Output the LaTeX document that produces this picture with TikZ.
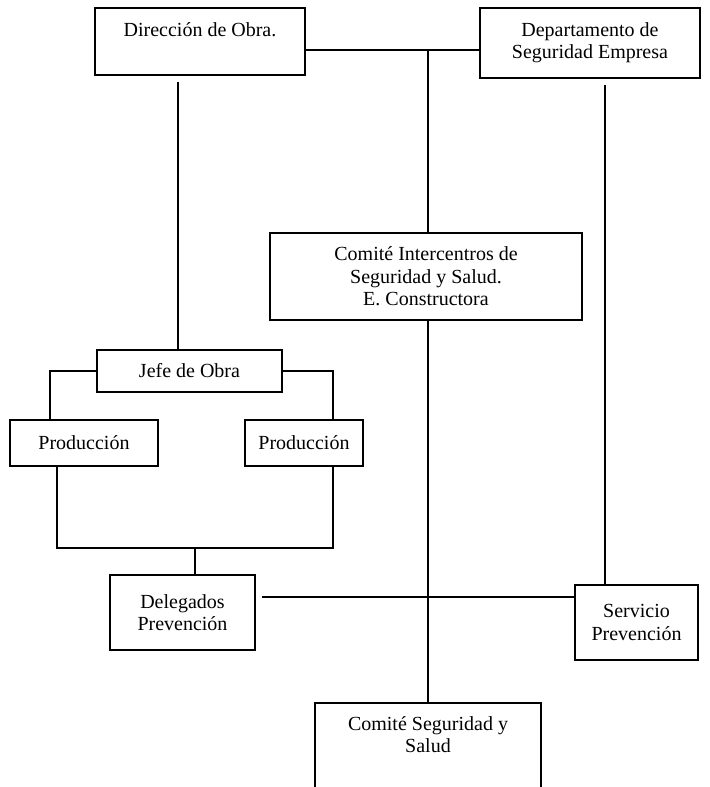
\documentclass[tikz,border=0pt]{standalone}
\usepackage{fontspec}
\setmainfont{Liberation Serif}
\usepackage{tikz}
\usetikzlibrary{calc}

\begin{document}
\begin{tikzpicture}[x=0.5pt, y=-0.5pt, line width=0.75pt,
    caja/.style={draw, align=center, font=\fontsize{10}{11.2}\selectfont, inner sep=2pt}]
  \useasboundingbox (0, 0) rectangle (709, 787);
  \clip (0, 0) rectangle (709, 787);

  \node[caja, minimum width=105pt, minimum height=33.5pt] (direccion) at (200, 41.5)
       {Dirección de Obra.\\[1pt]\mbox{}};
  \node[caja, minimum width=110pt, minimum height=35pt] (depto) at (590, 43)
       {Departamento de\\Seguridad Empresa};
  \node[caja, minimum width=156pt, minimum height=43.5pt] (comite) at (426, 276.5)
       {Comité Intercentros de\\Seguridad y Salud.\\E. Constructora};
  \node[caja, minimum width=92.5pt, minimum height=21pt] (jefe) at (189.5, 371) {Jefe de Obra};
  \node[caja, minimum width=74pt, minimum height=23pt] (prodA) at (84, 443) {Producción};
  \node[caja, minimum width=59pt, minimum height=23pt] (prodB) at (304, 443) {Producción};
  \node[caja, minimum width=72.5pt, minimum height=37.5pt] (delegados) at (182.5, 612.5)
       {Delegados\\Prevención};
  \node[caja, minimum width=61.5pt, minimum height=37.5pt] (servicio) at (636.5, 622.5)
       {Servicio\\Prevención};
  \node[caja, minimum width=113pt, minimum height=55pt, anchor=north] (comiteSS) at (428, 702)
       {Comité Seguridad y\\Salud\\[12pt]\mbox{}};

  \coordinate (arriba) at (428, 50);
  \coordinate (junta) at (195, 548);
  \coordinate (cruce) at (428, 597);

  \draw (direccion.east |- arriba) -- (depto.west |- arriba);
  \draw (arriba) -- (arriba |- comite.north);
  \draw (comite.south -| arriba) -- (comiteSS.north);
  \draw[shorten <=3pt] ([xshift=-5.75pt]jefe.north |- direccion.south) -- ([xshift=-5.75pt]jefe.north);
  \draw[shorten <=3pt] ([xshift=7.5pt]depto.south) -- ([xshift=7.5pt]depto.south |- servicio.north);

  \draw (jefe.west) -| ([xshift=-17pt]prodA.north);
  \draw (jefe.east) -| ([xshift=14.5pt]prodB.north);
  \draw ([xshift=-13.5pt]prodA.south) |- ([xshift=14.5pt]prodB.south |- junta)
        -- ([xshift=14.5pt]prodB.south);
  \draw (junta) -- (junta |- delegados.north);
  \draw[shorten <=3pt] (delegados.east |- cruce) -- (servicio.west |- cruce);
\end{tikzpicture}
\end{document}
